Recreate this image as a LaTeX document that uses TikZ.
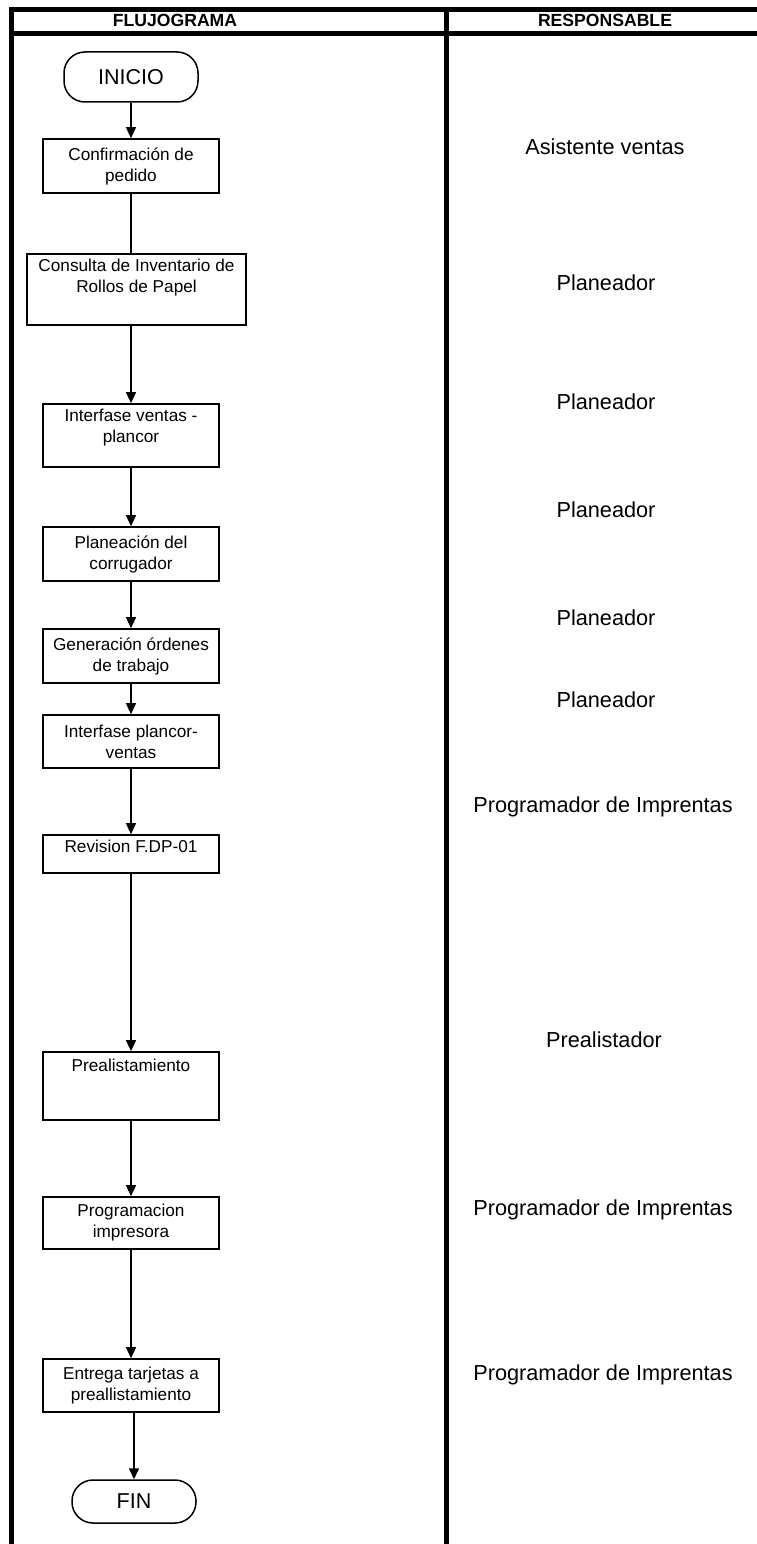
\documentclass[tikz,border=0pt]{standalone}
\usepackage{fontspec}
\setmainfont{Liberation Sans}
\usetikzlibrary{arrows.meta}
\begin{document}
\begin{tikzpicture}[x=1pt,y=-1pt,
  frame/.style={line width=5pt},
  stepbox/.style={draw, line width=1.7pt, minimum width=176pt, inner sep=0pt,
    align=center, font=\fontsize{17.2}{21}\selectfont},
  term/.style={draw, line width=1.5pt, rounded corners=21pt, inner sep=0pt,
    font=\fontsize{21.5}{26}\selectfont},
  flow/.style={line width=1.5pt},
  arr/.style={flow, -{Triangle[width=10pt,length=11pt]}},
  resp/.style={font=\fontsize{21.7}{26}\selectfont, text height=15.5pt, text depth=0pt, inner sep=0pt},
  head/.style={font=\bfseries\fontsize{17.6}{20}\selectfont, inner sep=0pt}]

\useasboundingbox (0,0) rectangle (757,1544);

% table frame
\draw[frame] (9,9.5) -- (757,9.5);
\draw[frame] (9,33.5) -- (757,33.5);
\draw[frame] (11.5,7) -- (11.5,1544);
\draw[frame] (446.5,7) -- (446.5,1544);

% column headings
\node[head] (hflujo) at (175,20) {FLUJOGRAMA};
\node[head] (hresp) at (605,20) {RESPONSABLE};

% flow chart
\node[term, minimum width=134pt, minimum height=50pt] (inicio) at (131,77) {INICIO};
\node[stepbox, minimum height=54pt] (conf) at (131,166) {Confirmación de\\pedido};
\node[stepbox, minimum width=219pt, minimum height=71pt] (cons) at (136.5,289.5)
  {Consulta de Inventario de\\Rollos de Papel\\\strut};
\node[stepbox, minimum height=63pt] (ivent) at (131,435.5) {Interfase ventas -\\plancor\\[-8pt]\strut};
\node[stepbox, minimum height=54pt] (plan) at (131,554) {Planeación del\\corrugador};
\node[stepbox, minimum height=54pt] (gen) at (131,656) {Generación órdenes\\de trabajo};
\node[stepbox, minimum height=53pt] (ipv) at (131,741.5) {Interfase plancor-\\ventas};
\node[stepbox, minimum height=38pt] (rev) at (131,854) {Revision F.DP-01\\[-11pt]\strut};
\node[stepbox, minimum height=68pt] (pre) at (131,1086) {Prealistamiento\\[15pt]\strut};
\node[stepbox, minimum height=52pt] (prog) at (131,1223) {Programacion\\impresora};
\node[stepbox, minimum height=53pt] (ent) at (131,1385.5) {Entrega tarjetas a\\preallistamiento};
\node[term, minimum width=124pt, minimum height=43pt] (fin) at (134,1501.5) {FIN};

% connectors
\draw[arr] (inicio.south) -- (conf.north);
\draw[flow] (conf.south) -- (conf.south |- cons.north);
\draw[arr] (cons.south -| conf.south) -- (ivent.north);
\draw[arr] (ivent.south) -- (plan.north);
\draw[arr] (plan.south) -- (gen.north);
\draw[arr] (gen.south) -- (ipv.north);
\draw[arr] (ipv.south) -- (rev.north);
\draw[arr] (rev.south) -- (pre.north);
\draw[arr] (pre.south) -- (prog.north);
\draw[arr] (prog.south) -- (ent.north);
\draw[arr] (ent.south -| fin.north) -- (fin.north);

% responsible roles
\node[resp] (r1) at (605,147) {Asistente ventas};
\node[resp] (r2) at (606,283) {Planeador};
\node[resp] (r3) at (606,402) {Planeador};
\node[resp] (r4) at (606,510) {Planeador};
\node[resp] (r5) at (606,618) {Planeador};
\node[resp] (r6) at (606,700) {Planeador};
\node[resp] (r7) at (603,805) {Programador de Imprentas};
\node[resp] (r8) at (604,1040) {Prealistador};
\node[resp] (r9) at (603,1208) {Programador de Imprentas};
\node[resp] (r10) at (603,1373) {Programador de Imprentas};
\end{tikzpicture}
\end{document}
